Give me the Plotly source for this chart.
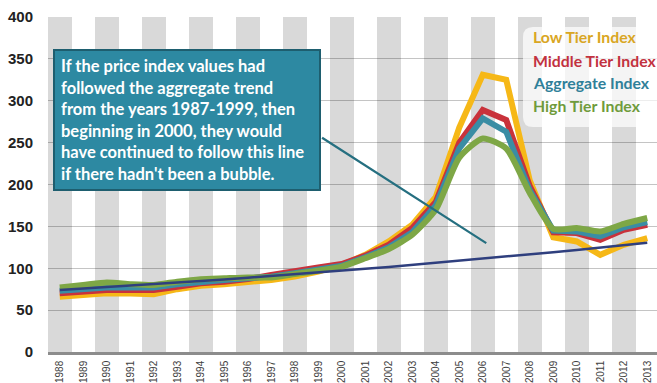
import plotly.graph_objects as go

years = list(range(1988, 2014))
low_tier = [66, 68, 70, 70, 69, 75, 79, 81, 83, 86, 90, 96, 104, 116, 132, 152, 185, 268, 331, 325, 205, 137, 132, 116, 128, 136]
middle_tier = [70, 72, 74, 74, 74, 78, 82, 84, 87, 92, 97, 101, 105, 115, 128, 148, 179, 250, 289, 277, 198, 143, 142, 134, 146, 152]
aggregate = [73, 75, 77, 77, 77, 81, 84, 86, 88, 90, 94, 98, 103, 113, 125, 143, 175, 243, 279, 263, 193, 145, 144, 138, 149, 155]
high_tier = [77, 80, 83, 81, 80, 84, 87, 88, 89, 89, 93, 97, 102, 112, 123, 140, 170, 232, 255, 243, 190, 147, 148, 144, 153, 160]
trend = [74.0, 75.7, 77.4, 79.2, 81.0, 82.9, 84.8, 86.7, 88.7, 90.7, 92.8, 94.9, 97.1, 99.4, 101.6,
         104.0, 106.4, 108.8, 111.3, 113.8, 116.5, 119.1, 121.9, 124.7, 127.5, 130.5]
band_years = [y for y in years if y % 2 == 0]
band_values = [400] * len(band_years)
y_ticks = [0, 50, 100, 150, 200, 250, 300, 350, 400]
legend_labels = ["Low Tier Index", "Middle Tier Index", "Aggregate Index", "High Tier Index"]
note_text = ("If the price index values had<br>followed the aggregate trend<br>from the years 1987-1999, then<br>"
             "beginning in 2000, they would<br>have continued to follow this line<br>if there hadn't been a bubble.")

W, H = 657, 383
ML, MR, MT, MB = 48, 0, 17, 31
PW = W - ML - MR
PH = H - MT - MB

def px(x):
    return (x - ML) / PW

def py(y):
    return (H - MB - y) / PH

fig = go.Figure()
fig.add_trace(go.Bar(x=band_years, y=band_values, width=1, marker=dict(color="rgba(0,0,0,0.15)", line=dict(width=0)),
                     hoverinfo="skip", showlegend=False))

series = [
    (low_tier, "#F6B817", "linear"),
    (middle_tier, "#C9323B", "linear"),
    (aggregate, "#3A8DA4", "linear"),
    (high_tier, "#7EA746", "spline"),
]
for (vals, col, shp), name in zip(series, legend_labels):
    fig.add_trace(go.Scatter(x=years, y=vals, mode="lines", name=name,
                             line=dict(color=col, width=6, shape=shp, smoothing=0.6),
                             showlegend=False))
fig.add_trace(go.Scatter(x=years, y=trend, mode="lines", name="Trend",
                         line=dict(color="#2F3F7E", width=2.5), showlegend=False))

annotations = []
# pointer line from the note box
annotations.append(dict(x=2006.15, y=130, ax=1999.1, ay=257, xref="x", yref="y", axref="x", ayref="y",
                        text="", showarrow=True, arrowhead=0, arrowwidth=2.2, arrowcolor="#256F80"))
# note box
annotations.append(dict(x=px(53), y=py(49), xref="paper", yref="paper", xanchor="left", yanchor="top",
                        text="<b>" + note_text + "</b>", showarrow=False, align="left",
                        font=dict(family="Lato", size=16.5, color="white"),
                        bgcolor="#2D89A2", bordercolor="#1E5E6F", borderwidth=2, borderpad=6,
                        width=252, height=126, valign="middle"))
legend_colors = ["#D9A623", "#C2323F", "#2F8099", "#6F9B3C"]
legend_y = [37, 60, 82, 105]
for lab, col, yy in zip(legend_labels, legend_colors, legend_y):
    annotations.append(dict(x=px(531), y=py(yy), xref="paper", yref="paper", xanchor="left", yanchor="middle",
                            text="<b>" + lab + "</b>", showarrow=False,
                            font=dict(family="Lato", size=15.8, color=col)))

x0, x1, y0, y1 = px(523), px(664), py(27), py(127)
rx, ry = 10 / PW, 10 / PH
path = (f"M {x0+rx},{y0} L {x1-rx},{y0} Q {x1},{y0} {x1},{y0-ry} L {x1},{y1+ry} Q {x1},{y1} {x1-rx},{y1} "
        f"L {x0+rx},{y1} Q {x0},{y1} {x0},{y1+ry} L {x0},{y0-ry} Q {x0},{y0} {x0+rx},{y0} Z")
shapes = [dict(type="path", path=path, xref="paper", yref="paper", fillcolor="rgba(255,255,255,0.7)",
               line=dict(width=0), layer="above")]

fig.update_layout(
    width=W, height=H, margin=dict(l=ML, r=MR, t=MT, b=MB),
    paper_bgcolor="white", plot_bgcolor="white", bargap=0,
    annotations=annotations, shapes=shapes,
    xaxis=dict(range=[1987.5, 1987.5 + PW / 23.5], tickmode="array", tickvals=years,
               ticktext=[str(y) for y in years], tickangle=-90, ticks="", showgrid=False,
               tickfont=dict(family="Liberation Sans Narrow, Liberation Sans", size=10, color="#404040"),
               ticklabelstandoff=2,
               showline=True, linecolor="#8C8C8C", linewidth=2.5, zeroline=False),
    yaxis=dict(range=[0, 400], tickmode="array", tickvals=y_ticks, showgrid=True, gridcolor="#C4C4C4",
               gridwidth=1, zeroline=False, ticks="", ticklabelstandoff=14,
               tickfont=dict(family="Liberation Sans", size=15, color="#222222", weight="bold")),
)
fig.write_html("out.html")
